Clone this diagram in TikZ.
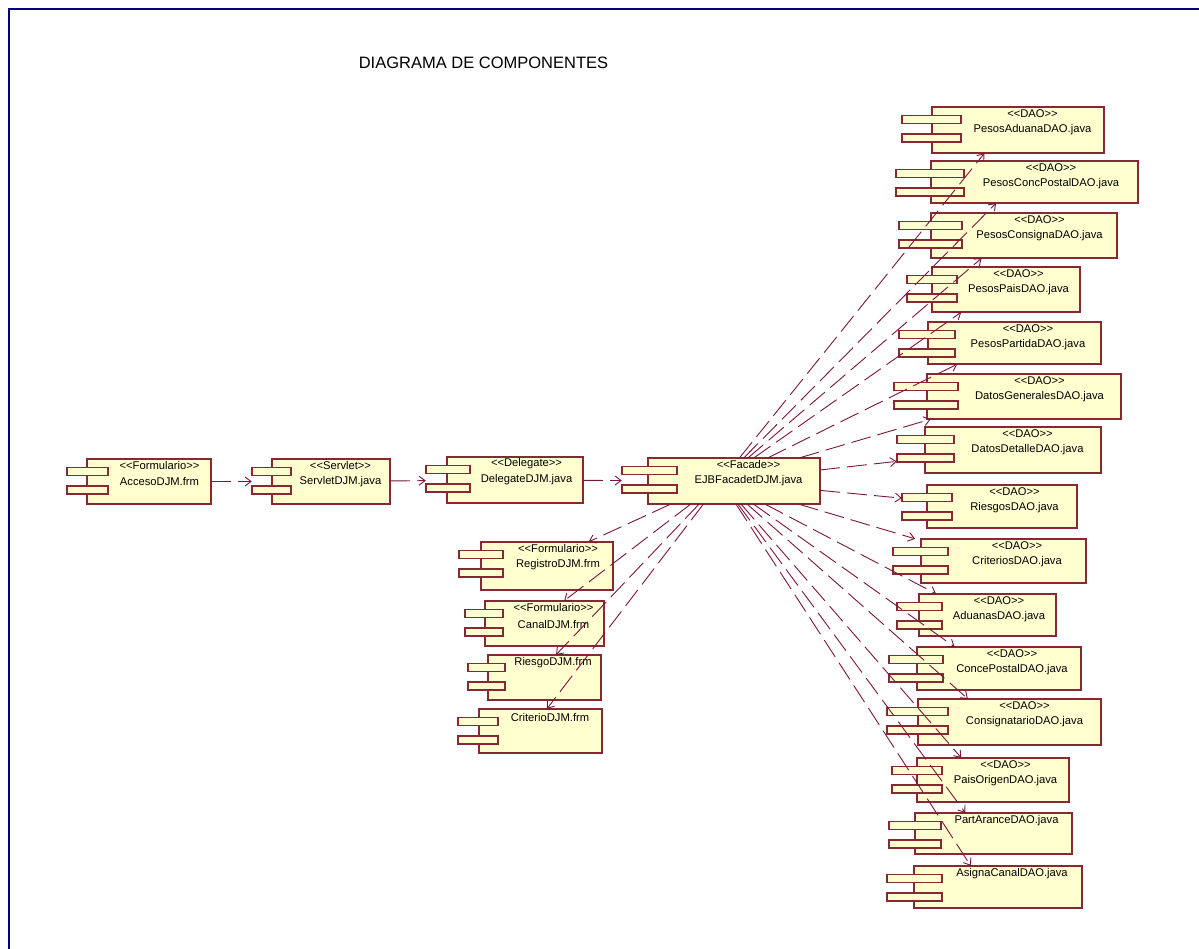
\documentclass[tikz,border=0pt]{standalone}
\usepackage{fontspec}
\setmainfont{Liberation Sans}
\usetikzlibrary{arrows.meta,fit}
\definecolor{boxfill}{RGB}{255,255,208}
\definecolor{boxline}{RGB}{135,40,50}
\definecolor{connc}{RGB}{125,20,60}
\definecolor{framec}{RGB}{0,0,128}
\newcommand\st[1]{<\kern0pt<#1>\kern0pt>}
\tikzset{
  body/.style={draw=boxline, fill=boxfill, line width=1.3pt},
  lbl/.style={font=\fontsize{11.2}{13}\selectfont, inner sep=0pt, text=black},
  conn/.style={draw=connc, line width=0.9pt, dash pattern=on 20pt off 7pt,
    -{Straight Barb[length=6pt,width=9pt,line width=0.9pt]}},
}
% name, lugL, bodyL, bodyR, top, bottom, lugR, stereotype, name text
\newcommand\comp[9]{%
  \draw[body] (#3,#5) rectangle (#4,#6);
  \draw[body] (#2,#5+8.5) rectangle (#7,#5+16.5);
  \draw[body] (#2,#5+27) rectangle (#7,#5+35);
  \node[fit={(#2,#5) (#4,#6)}, inner sep=0pt] (#1) {};
  \node[lbl] (#1s) at ({(#7+#4)/2},#5+6.5) {\st{#8}};
  \node[lbl] (#1n) at ({(#7+#4)/2},#5+23) {#9};
}
\newcommand\compn[8]{%
  \draw[body] (#3,#5) rectangle (#4,#6);
  \draw[body] (#2,#5+8.5) rectangle (#7,#5+16.5);
  \draw[body] (#2,#5+27) rectangle (#7,#5+35);
  \node[fit={(#2,#5) (#4,#6)}, inner sep=0pt] (#1) {};
  \node[lbl] (#1n) at ({(#7+#4)/2},#5+8) {#8};
}
\begin{document}
\begin{tikzpicture}[x=1pt,y=-1pt]
\path[use as bounding box] (0,0) rectangle (1199,949);
\draw[framec, line width=2pt] (8.5,949) -- (8.5,9.3) -- (1199,9.3);
\node[font=\fontsize{16.5}{19}\selectfont, inner sep=0pt] (title) at (483.5,63) {DIAGRAMA DE COMPONENTES};
% chain
\comp{acc}{67}{87}{211}{459}{504}{108}{Formulario}{AccesoDJM.frm}
\comp{serv}{252}{272}{390}{459}{504}{291}{Servlet}{ServletDJM.java}
\comp{del}{426}{447}{583}{457}{503}{470}{Delegate}{DelegateDJM.java}
\comp{fac}{622}{648}{820}{458}{504}{677}{Facade}{EJBFacadetDJM.java}
% formularios
\comp{reg}{459}{481}{613}{542}{590}{503}{Formulario}{RegistroDJM.frm}
\comp{can}{465}{485}{604}{601}{646}{503}{Formulario}{CanalDJM.frm}
\compn{rie}{468}{488}{601}{655}{700}{505}{RiesgoDJM.frm}
\compn{cri}{458}{479}{602}{709}{753}{498}{CriterioDJM.frm}
% DAOs
\comp{pad}{902}{932}{1104}{107}{153}{961}{DAO}{PesosAduanaDAO.java}
\comp{pcp}{896}{931}{1138}{161}{203}{964}{DAO}{PesosConcPostalDAO.java}
\comp{pcs}{899}{931}{1117}{213}{258}{962}{DAO}{PesosConsignaDAO.java}
\comp{ppa}{907}{932}{1080}{267}{312}{957}{DAO}{PesosPaisDAO.java}
\comp{ppt}{899}{928}{1101}{322}{364}{955}{DAO}{PesosPartidaDAO.java}
\comp{dge}{894}{927}{1121}{374}{419}{958}{DAO}{DatosGeneralesDAO.java}
\comp{dde}{897}{925}{1101}{427}{473}{954}{DAO}{DatosDetalleDAO.java}
\comp{rsg}{902}{927}{1077}{485}{528}{952}{DAO}{RiesgosDAO.java}
\comp{crt}{893}{921}{1086}{539}{583}{948}{DAO}{CriteriosDAO.java}
\comp{adu}{897}{919}{1056}{594}{636}{942}{DAO}{AduanasDAO.java}
\comp{cpo}{889}{917}{1081}{647}{690}{943}{DAO}{ConcePostalDAO.java}
\comp{csg}{887}{918}{1101}{699}{745}{948}{DAO}{ConsignatarioDAO.java}
\comp{por}{892}{917}{1069}{758}{802}{942}{DAO}{PaisOrigenDAO.java}
\compn{par}{889}{915}{1072}{813}{854}{941}{PartAranceDAO.java}
\compn{asc}{887}{914}{1082}{866}{908}{942}{AsignaCanalDAO.java}
% connectors
\draw[conn] (acc) -- (serv);
\draw[conn] (serv) -- (del);
\draw[conn] (del) -- (fac);
\foreach \t in {reg,can,rie,cri,pad,pcp,pcs,ppa,ppt,dge,dde,rsg,crt,adu,cpo,csg,por,par,asc}
  \draw[conn] (fac) -- (\t);
\end{tikzpicture}
\end{document}
